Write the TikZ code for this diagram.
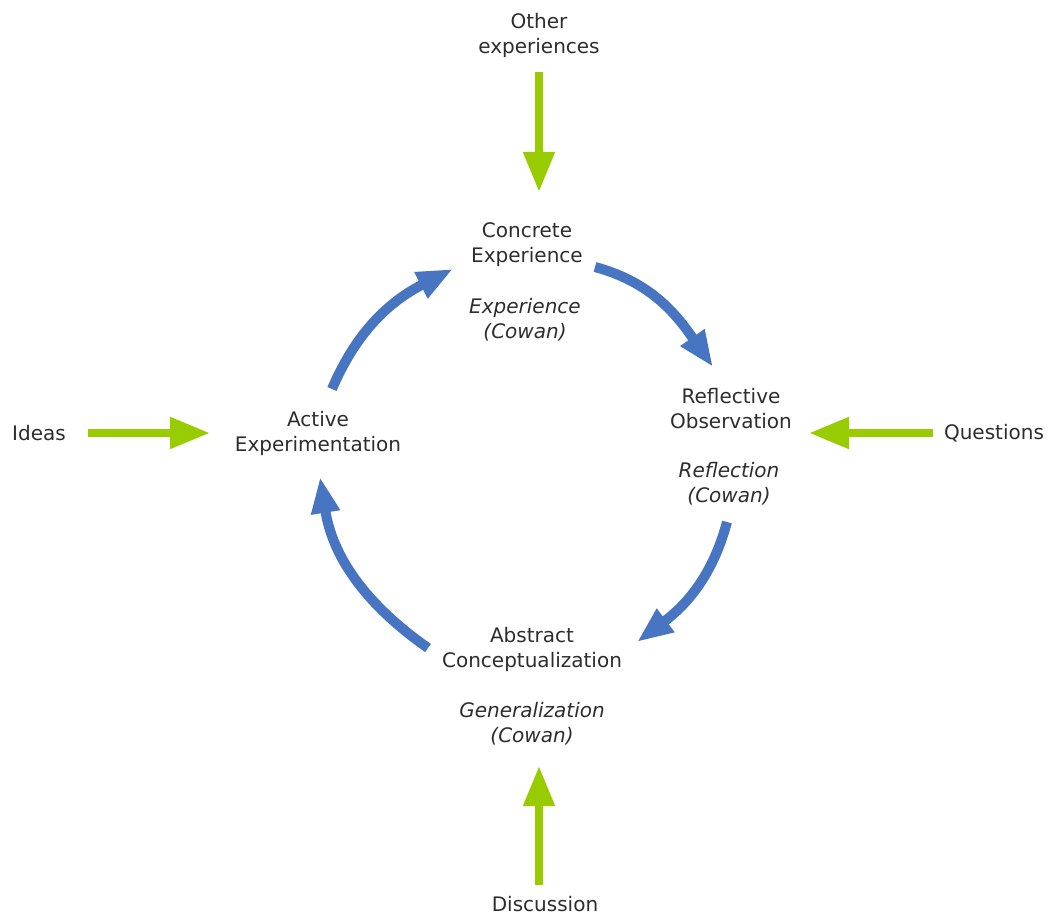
\documentclass[tikz,border=0pt]{standalone}
\usepackage{fontspec}
\setmainfont{DejaVu Sans}
\usetikzlibrary{arrows.meta}
\definecolor{cycleblue}{RGB}{71,117,194}
\definecolor{inputgreen}{RGB}{153,204,0}
\definecolor{labelgray}{RGB}{45,45,45}
\begin{document}
\begin{tikzpicture}[x=1pt,y=-1pt,
  lbl/.style={font=\fontsize{20}{25}\selectfont, text=labelgray, align=center, inner sep=0pt},
  alt/.style={lbl, font=\fontsize{20}{25}\selectfont\itshape},
  cyclearrow/.style={draw=cycleblue, line width=10pt, -{Triangle[length=36pt,width=27pt]}},
  inputarrow/.style={draw=inputgreen, line width=8pt, -{Triangle[length=40pt,width=30pt]}}]
\useasboundingbox (0,0) rectangle (1052,917);

% stage labels
\node[lbl] (ce)  at (527,245) {Concrete\\Experience};
\node[alt] (cea) at (525,320) {Experience\\(Cowan)};
\node[lbl] (ro)  at (731,409) {Reflective\\Observation};
\node[alt] (roa) at (729,484) {Reflection\\(Cowan)};
\node[lbl] (ac)  at (532,649) {Abstract\\Conceptualization};
\node[alt] (aca) at (532,724) {Generalization\\(Cowan)};
\node[lbl] (ae)  at (318,433) {Active\\Experimentation};

% inputs
\node[lbl] (oth) at (539,35)  {Other\\experiences};
\node[lbl] (qst) at (994,433) {Questions};
\node[lbl] (ids) at (39,433)  {Ideas};
\node[lbl] (dis) at (545,904) {Discussion};

% arrow end points
\coordinate (c1s) at (595,267); \coordinate (c1e) at (713,367);
\coordinate (c2s) at (727,522); \coordinate (c2e) at (637,642);
\coordinate (c3s) at (428,648); \coordinate (c3e) at (320,477);
\coordinate (c4s) at (332,389); \coordinate (c4e) at (453,269);

\coordinate (g1s) at (539,72);  \coordinate (g1e) at (539,192);
\coordinate (g2s) at (933,433); \coordinate (g2e) at (809,433);
\coordinate (g3s) at (88,433);  \coordinate (g3e) at (210,433);
\coordinate (g4s) at (539,885); \coordinate (g4e) at (539,766);

% learning cycle
\draw[cyclearrow] (c1s) to[out=-15,in=125] (c1e);
\draw[cyclearrow] (c2s) to[out=255,in=37] (c2e);
\draw[cyclearrow] (c3s) to[out=145,in=279] (c3e);
\draw[cyclearrow] (c4s) to[out=67,in=207] (c4e);

% outside inputs
\draw[inputarrow] (g1s) -- (g1e);
\draw[inputarrow] (g2s) -- (g2e);
\draw[inputarrow] (g3s) -- (g3e);
\draw[inputarrow] (g4s) -- (g4e);
\end{tikzpicture}
\end{document}
